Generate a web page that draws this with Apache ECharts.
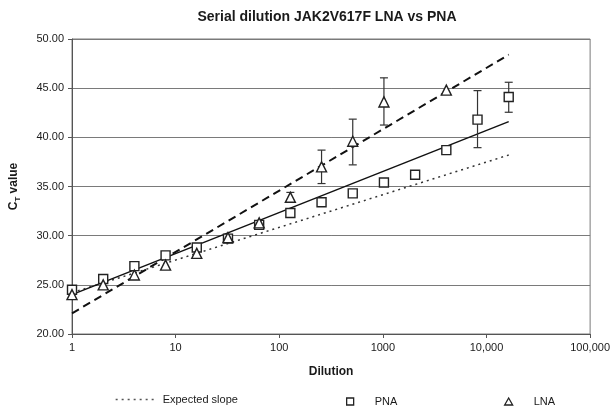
<!DOCTYPE html>
<html>
<head>
<meta charset="utf-8">
<script src="https://cdn.jsdelivr.net/npm/echarts@6/dist/echarts.min.js"></script>
<style>html,body{margin:0;padding:0;background:#fff}#c{width:613px;height:407px}</style>
</head>
<body>
<div id="c"></div>
<script>
// ---- data ----
const dilutions = [1, 2, 4, 8, 16, 32, 64, 128, 256, 512, 1024, 2048, 4096, 8192, 16384];
const pnaValues = [24.5, 25.6, 26.9, 28.0, 28.8, 29.7, 31.1, 32.3, 33.4, 34.3, 35.4, 36.2, 38.7, 41.8, 44.1];
const lnaDilutions = [1, 2, 4, 8, 16, 32, 64, 128, 256, 512, 1024, 4096];
const lnaValues = [24.0, 25.0, 26.0, 27.0, 28.2, 29.8, 31.3, 33.9, 37.0, 39.6, 43.6, 44.8];
// error bars: [dilution, low, high]
const pnaErrors = [[8192, 38.95, 44.75], [16384, 42.55, 45.6]];
const lnaErrors = [[128, 33.6, 34.4], [256, 35.3, 38.7], [512, 37.2, 41.85], [1024, 41.25, 46.05]];
// trend lines: [dilution, Ct]
const expectedSlope = [[1, 24.2], [16384, 38.2]];
const pnaFit = [[1, 24.0], [16384, 41.6]];
const lnaFit = [[1, 22.1], [16384, 48.4]];
const xTicks = [1, 10, 100, 1000, 10000, 100000];
const yTicks = [20, 25, 30, 35, 40, 45, 50];

const FONT = '"Liberation Sans", Arial, sans-serif';
const INK = '#1a1a1a';

function pairs(xs, ys) { return xs.map((x, i) => [x, ys[i]]); }

function errRender(params, api) {
  const x = api.value(0), lo = api.value(1), hi = api.value(2);
  const t = api.coord([x, hi]);
  const b = api.coord([x, lo]);
  const hw = 4;
  const st = { stroke: '#333', lineWidth: 1.2 };
  return {
    type: 'group',
    children: [
      { type: 'line', shape: { x1: t[0], y1: t[1], x2: b[0], y2: b[1] }, style: st },
      { type: 'line', shape: { x1: t[0] - hw, y1: t[1], x2: t[0] + hw, y2: t[1] }, style: st },
      { type: 'line', shape: { x1: b[0] - hw, y1: b[1], x2: b[0] + hw, y2: b[1] }, style: st }
    ]
  };
}

const chart = echarts.init(document.getElementById('c'), null, { renderer: 'canvas' });
chart.setOption({
  animation: false,
  backgroundColor: '#fff',
  textStyle: { fontFamily: FONT },
  title: {
    text: 'Serial dilution JAK2V617F LNA vs PNA',
    left: 322, top: 5, textAlign: 'center',
    textStyle: { fontFamily: FONT, fontSize: 14, fontWeight: 'bold', color: INK }
  },
  grid: { left: 66, right: 21, top: 39, bottom: 73, show: true, borderColor: '#7a7a7a', borderWidth: 1, backgroundColor: 'transparent' },
  legend: [
    {
      data: ['Expected slope'], left: 110, top: 389, itemWidth: 42, itemHeight: 10, itemGap: 0,
      itemStyle: { color: 'transparent', borderColor: 'transparent', borderWidth: 0, opacity: 0 },
      lineStyle: { color: '#555', width: 1.3, type: [2, 4] },
      textStyle: { fontFamily: FONT, fontSize: 11, color: INK }
    },
    {
      data: [{ name: 'PNA', icon: 'rect' }], left: 341, top: 391, itemWidth: 7, itemHeight: 7,
      itemStyle: { color: '#fff', borderColor: '#222', borderWidth: 1.3 },
      textStyle: { fontFamily: FONT, fontSize: 11, color: INK, padding: [0, 0, 0, 16] }
    },
    {
      data: [{ name: 'LNA', icon: 'triangle' }], left: 499, top: 391, itemWidth: 8, itemHeight: 7,
      itemStyle: { color: '#fff', borderColor: '#222', borderWidth: 1.3 },
      textStyle: { fontFamily: FONT, fontSize: 11, color: INK, padding: [0, 0, 0, 16] }
    }
  ],
  xAxis: {
    type: 'log', logBase: 10, min: xTicks[0], max: xTicks[xTicks.length - 1],
    name: 'Dilution', nameLocation: 'middle', nameGap: 32,
    nameTextStyle: { fontFamily: FONT, fontSize: 12, fontWeight: 'bold', color: INK },
    axisLine: { show: true, lineStyle: { color: '#555', width: 1 } },
    axisTick: { show: true, inside: false, length: 4, lineStyle: { color: '#555' } },
    minorTick: { show: false },
    splitLine: { show: false },
    axisLabel: {
      margin: 8, fontFamily: FONT, fontSize: 11, color: INK,
      formatter: function (v) {
        const r = Math.round(v);
        return r >= 10000 ? r.toLocaleString('en-US') : String(r);
      }
    }
  },
  yAxis: {
    type: 'value', min: yTicks[0], max: yTicks[yTicks.length - 1], interval: 5,
    name: '{a|C}{b|T}{a| value}', nameLocation: 'middle', nameGap: 50, nameRotate: 90,
    nameTextStyle: {
      fontFamily: FONT, fontSize: 12, fontWeight: 'bold', color: INK,
      rich: {
        a: { fontFamily: FONT, fontSize: 12, fontWeight: 'bold', color: INK, lineHeight: 16 },
        b: { fontFamily: FONT, fontSize: 8, fontWeight: 'bold', color: INK, lineHeight: 16, verticalAlign: 'bottom' }
      }
    },
    axisLine: { show: true, lineStyle: { color: '#555', width: 1 } },
    axisTick: { show: true, inside: false, length: 4, lineStyle: { color: '#555' } },
    splitLine: { show: true, lineStyle: { color: '#7a7a7a', width: 1 } },
    axisLabel: {
      margin: 8, fontFamily: FONT, fontSize: 11, color: INK,
      formatter: v => v.toFixed(2)
    }
  },
  series: [
    {
      name: 'Expected slope', type: 'line', data: expectedSlope, symbol: 'none', z: 2,
      lineStyle: { color: '#333', width: 1.5, type: [2, 4] }
    },
    {
      name: 'PNA fit', type: 'line', data: pnaFit, symbol: 'none', z: 2,
      lineStyle: { color: '#111', width: 1.5, type: 'solid' }
    },
    {
      name: 'LNA fit', type: 'line', data: lnaFit, symbol: 'none', z: 2,
      lineStyle: { color: '#111', width: 2, type: [8, 5] }
    },
    { name: 'PNA err', type: 'custom', renderItem: errRender, data: pnaErrors, z: 3 },
    { name: 'LNA err', type: 'custom', renderItem: errRender, data: lnaErrors, z: 3 },
    {
      name: 'PNA', type: 'scatter', data: pairs(dilutions, pnaValues), symbol: 'rect', symbolSize: 9, z: 4,
      itemStyle: { color: '#fff', borderColor: '#222', borderWidth: 1.4, opacity: 1 }
    },
    {
      name: 'LNA', type: 'scatter', data: pairs(lnaDilutions, lnaValues), symbol: 'triangle', symbolSize: [10, 10], z: 5,
      itemStyle: { color: '#fff', borderColor: '#222', borderWidth: 1.4, opacity: 1 }
    }
  ]
});
</script>
</body>
</html>
